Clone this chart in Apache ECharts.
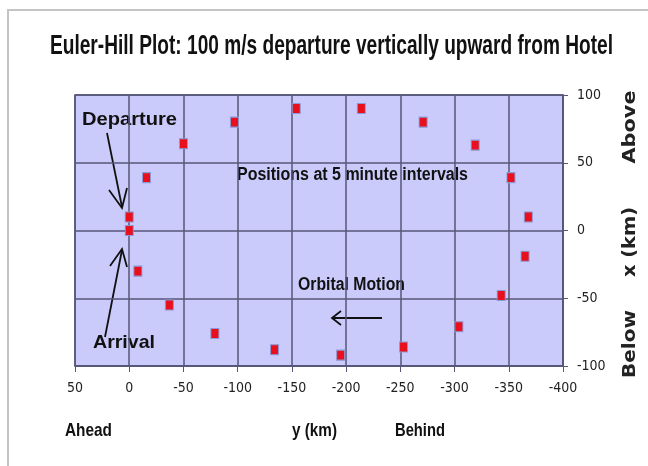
<!DOCTYPE html>
<html><head><meta charset="utf-8">
<script src="https://cdn.jsdelivr.net/npm/echarts@6/dist/echarts.min.js"></script>
<style>html,body{margin:0;padding:0;background:#fff}#c{width:648px;height:466px}</style>
</head><body><div id="c"></div>
<script>
// Positions at 5 minute intervals: y (km, along-track, horizontal) and x (km, radial, vertical)
const yKm = [0, -16, -50, -97, -154, -214, -271, -319, -352, -368, -365, -343, -304, -253, -195, -134, -79, -37, -8, 0];
const xKm = [10, 39, 64, 80, 90, 90, 80, 63, 39, 10, -19, -48, -71, -86, -92, -88, -76, -55, -30, 0];
const yTicks = [50, 0, -50, -100, -150, -200, -250, -300, -350, -400];
const xTicks = [100, 50, 0, -50, -100];
const titleText = 'Euler-Hill Plot: 100 m/s departure vertically upward from Hotel';

const points = yKm.map((v, i) => [v, xKm[i]]);
const AF = '"Liberation Sans",Arial,sans-serif';
const WF = '"DejaVu Sans",Verdana,sans-serif';
const TF = '"DejaVu Sans Condensed","Liberation Sans",sans-serif';
const mctx = document.createElement('canvas').getContext('2d');
function fitText(text, font, targetW, x, y, opts) {
  opts = opts || {};
  mctx.font = font;
  const w = mctx.measureText(text).width;
  return {
    type: 'text', x: x, y: y, rotation: opts.rotation || 0, scaleX: targetW / w, silent: true,
    style: { text: text, x: 0, y: 0, textAlign: opts.align || 'left', textVerticalAlign: 'middle', font: font, fill: opts.fill || '#111' }
  };
}
const chart = echarts.init(document.getElementById('c'));
chart.setOption({
  backgroundColor: '#ffffff',
  animation: false,
  grid: { left: 75, right: 85, top: 95, bottom: 100, show: true, backgroundColor: '#cbcbfb', borderColor: '#56567a', borderWidth: 1.5 },
  xAxis: {
    type: 'value', inverse: true, min: yTicks[yTicks.length - 1], max: yTicks[0], interval: 50,
    axisLine: { show: true, onZero: false, lineStyle: { color: '#56567a', width: 1.5 } },
    axisTick: { show: true, length: 6, lineStyle: { color: '#56567a' } },
    axisLabel: { color: '#222', fontFamily: TF, fontSize: 14, margin: 15 },
    splitLine: { show: true, lineStyle: { color: '#56567a', width: 1.5 } }
  },
  yAxis: {
    type: 'value', position: 'right', min: xTicks[xTicks.length - 1], max: xTicks[0], interval: 50,
    axisLine: { show: true, onZero: false, lineStyle: { color: '#56567a', width: 1.5 } },
    axisTick: { show: true, length: 5, lineStyle: { color: '#56567a' } },
    axisLabel: { color: '#222', fontFamily: TF, fontSize: 14, margin: 14 },
    splitLine: { show: true, lineStyle: { color: '#56567a', width: 1.5 } }
  },
  series: [{
    type: 'scatter', data: points, symbol: 'rect', symbolSize: [8, 10],
    itemStyle: { color: '#e8101c', borderColor: '#8a9ad8', borderWidth: 1, opacity: 1 }
  }],
  graphic: [
    { type: 'rect', shape: { x: 8, y: 10, width: 700, height: 500 }, style: { fill: 'none', stroke: '#c4c4c4', lineWidth: 2 }, silent: true },
    fitText(titleText, 'bold 27px ' + AF, 563, 50, 47),
    fitText('Departure', 'bold 19px ' + AF, 95, 82, 120),
    fitText('Arrival', 'bold 19px ' + AF, 62, 93, 343),
    fitText('Positions at 5 minute intervals', 'bold 18px ' + AF, 231, 237, 175),
    fitText('Orbital Motion', 'bold 18px ' + AF, 107, 298, 285),
    fitText('Ahead', 'bold 19px ' + AF, 47, 65, 431),
    fitText('y (km)', 'bold 19px ' + AF, 45, 292, 431),
    fitText('Behind', 'bold 19px ' + AF, 50, 395, 431),
    fitText('Above', 'bold 17px ' + WF, 73, 631, 127, { rotation: Math.PI / 2, align: 'center', fill: '#222' }),
    fitText('x (km)', 'bold 17px ' + WF, 70, 631, 242, { rotation: Math.PI / 2, align: 'center', fill: '#222' }),
    fitText('Below', 'bold 17px ' + WF, 68, 631, 344, { rotation: Math.PI / 2, align: 'center', fill: '#222' }),
    // Departure arrow
    { type: 'polyline', shape: { points: [[107, 133], [122, 207]] }, style: { stroke: '#111', lineWidth: 1.8, fill: 'none' } },
    { type: 'polyline', shape: { points: [[109, 190], [122, 208], [127, 188]] }, style: { stroke: '#111', lineWidth: 1.8, fill: 'none' } },
    // Arrival arrow
    { type: 'polyline', shape: { points: [[105, 337], [122, 250]] }, style: { stroke: '#111', lineWidth: 1.8, fill: 'none' } },
    { type: 'polyline', shape: { points: [[110, 266], [122, 249], [127, 267]] }, style: { stroke: '#111', lineWidth: 1.8, fill: 'none' } },
    // Orbital motion arrow
    { type: 'polyline', shape: { points: [[382, 318], [332, 318]] }, style: { stroke: '#111', lineWidth: 1.8, fill: 'none' } },
    { type: 'polyline', shape: { points: [[341, 311], [332, 318], [341, 325]] }, style: { stroke: '#111', lineWidth: 1.8, fill: 'none' } }
  ]
});
</script></body></html>
